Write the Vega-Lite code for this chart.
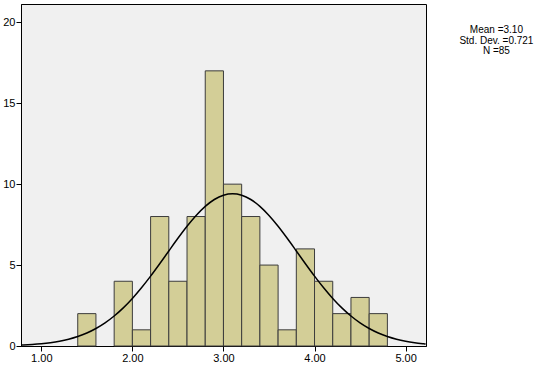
{
  "$schema": "https://vega.github.io/schema/vega-lite/v6.json",
  "width": 405,
  "height": 342,
  "autosize": {"type": "none"},
  "padding": {"left": 21, "top": 4, "right": 113, "bottom": 20},
  "background": "white",
  "config": {
    "view": {"fill": "#F0F0F0", "stroke": "#000000", "strokeWidth": 1},
    "font": "Liberation Sans",
    "axis": {"grid": false, "domainColor": "#000000", "tickColor": "#000000", "labelColor": "#000000", "labelFontSize": 11, "tickSize": 5, "labelPadding": 1, "title": null}
  },
  "datasets": {
    "bins": [
      {"bin_start": 1.4, "bin_end": 1.6, "count": 2},
      {"bin_start": 1.8, "bin_end": 2.0, "count": 4},
      {"bin_start": 2.0, "bin_end": 2.2, "count": 1},
      {"bin_start": 2.2, "bin_end": 2.4, "count": 8},
      {"bin_start": 2.4, "bin_end": 2.6, "count": 4},
      {"bin_start": 2.6, "bin_end": 2.8, "count": 8},
      {"bin_start": 2.8, "bin_end": 3.0, "count": 17},
      {"bin_start": 3.0, "bin_end": 3.2, "count": 10},
      {"bin_start": 3.2, "bin_end": 3.4, "count": 8},
      {"bin_start": 3.4, "bin_end": 3.6, "count": 5},
      {"bin_start": 3.6, "bin_end": 3.8, "count": 1},
      {"bin_start": 3.8, "bin_end": 4.0, "count": 6},
      {"bin_start": 4.0, "bin_end": 4.2, "count": 4},
      {"bin_start": 4.2, "bin_end": 4.4, "count": 2},
      {"bin_start": 4.4, "bin_end": 4.6, "count": 3},
      {"bin_start": 4.6, "bin_end": 4.8, "count": 2}
    ],
    "curve": [
      {"x": 0.78, "y": 0.053},
      {"x": 0.8, "y": 0.058},
      {"x": 0.9, "y": 0.0895},
      {"x": 1.0, "y": 0.135},
      {"x": 1.1, "y": 0.201},
      {"x": 1.2, "y": 0.292},
      {"x": 1.3, "y": 0.417},
      {"x": 1.4, "y": 0.584},
      {"x": 1.5, "y": 0.802},
      {"x": 1.6, "y": 1.080},
      {"x": 1.7, "y": 1.428},
      {"x": 1.8, "y": 1.851},
      {"x": 1.9, "y": 2.354},
      {"x": 2.0, "y": 2.937},
      {"x": 2.1, "y": 3.595},
      {"x": 2.2, "y": 4.316},
      {"x": 2.3, "y": 5.082},
      {"x": 2.4, "y": 5.871},
      {"x": 2.5, "y": 6.653},
      {"x": 2.6, "y": 7.396},
      {"x": 2.7, "y": 8.064},
      {"x": 2.8, "y": 8.626},
      {"x": 2.9, "y": 9.051},
      {"x": 3.0, "y": 9.316},
      {"x": 3.1, "y": 9.406},
      {"x": 3.2, "y": 9.316},
      {"x": 3.3, "y": 9.051},
      {"x": 3.4, "y": 8.626},
      {"x": 3.5, "y": 8.064},
      {"x": 3.6, "y": 7.396},
      {"x": 3.7, "y": 6.653},
      {"x": 3.8, "y": 5.871},
      {"x": 3.9, "y": 5.082},
      {"x": 4.0, "y": 4.316},
      {"x": 4.1, "y": 3.595},
      {"x": 4.2, "y": 2.937},
      {"x": 4.3, "y": 2.354},
      {"x": 4.4, "y": 1.851},
      {"x": 4.5, "y": 1.428},
      {"x": 4.6, "y": 1.080},
      {"x": 4.7, "y": 0.802},
      {"x": 4.8, "y": 0.584},
      {"x": 4.9, "y": 0.417},
      {"x": 5.0, "y": 0.292},
      {"x": 5.1, "y": 0.201},
      {"x": 5.2, "y": 0.135},
      {"x": 5.22, "y": 0.123}
    ]
  },
  "layer": [
    {
      "data": {"name": "bins"},
      "mark": {"type": "rect", "fill": "#D3CE97", "stroke": "#3C3C3C", "strokeWidth": 1},
      "encoding": {
        "x": {"field": "bin_start", "type": "quantitative", "scale": {"domain": [0.777, 5.224], "nice": false, "zero": false}, "axis": {"values": [1, 2, 3, 4, 5], "format": ".2f"}},
        "x2": {"field": "bin_end"},
        "y": {"field": "count", "type": "quantitative", "scale": {"domain": [0, 21.13], "nice": false}, "axis": {"values": [0, 5, 10, 15, 20]}},
        "y2": {"datum": 0}
      }
    },
    {
      "data": {"name": "curve"},
      "mark": {"type": "line", "color": "#000000", "strokeWidth": 1.5, "interpolate": "monotone", "clip": true},
      "encoding": {
        "x": {"field": "x", "type": "quantitative"},
        "y": {"field": "y", "type": "quantitative"}
      }
    },
    {
      "data": {"values": [{}]},
      "mark": {"type": "text", "text": ["Mean =3.10", "Std. Dev. =0.721", "N =85"], "align": "center", "baseline": "top", "fontSize": 10, "lineHeight": 10.5, "color": "#000000"},
      "encoding": {
        "x": {"datum": 5.997, "type": "quantitative"},
        "y": {"datum": 19.83, "type": "quantitative"}
      }
    }
  ]
}
